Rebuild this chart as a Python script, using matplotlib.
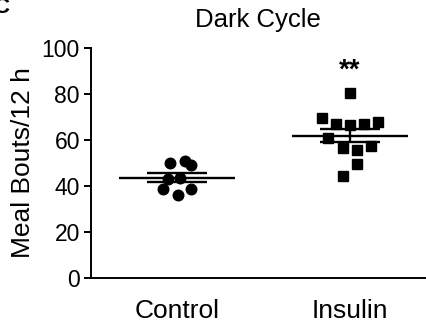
import matplotlib
matplotlib.use("Agg")
import matplotlib.pyplot as plt
import numpy as np

plt.rcParams['font.family'] = ['Liberation Sans', 'DejaVu Sans']

categories = ["Control", "Insulin"]
control = [50, 51, 49, 38.5, 36, 38.5, 43, 43.5]
control_jitter = [-0.04, 0.045, 0.08, -0.08, 0.005, 0.08, -0.05, 0.015]
insulin = [80.6, 69.7, 66.8, 66.5, 66.8, 67.7, 60.7, 56.7, 55.7, 57.4, 49.4, 44.3]
insulin_jitter = [0.0, -0.16, -0.08, 0.0, 0.08, 0.16, -0.127, -0.04, 0.04, 0.12, 0.04, -0.04]
yticks = [0, 20, 40, 60, 80, 100]
title = "Dark Cycle"
ylabel = "Meal Bouts/12 h"
sig = "**"

fig = plt.figure(figsize=(4.26, 3.23), dpi=100)
ax = fig.add_axes([91/426, 45/323, (426-91)/426, 230/323])

groups = [control, insulin]
jit = [control_jitter, insulin_jitter]
markers = ['o', 's']
sizes = [7.6, 7.2]
for i, (vals, j) in enumerate(zip(groups, jit)):
    x = np.array(j) + i
    ax.plot(x, vals, linestyle='none', marker=markers[i], ms=sizes[i],
            color='black', mec='black', zorder=3)
    m = np.mean(vals)
    sem = np.std(vals, ddof=1) / np.sqrt(len(vals))
    ax.hlines(m, i - 0.335, i + 0.335, color='black', lw=1.7, zorder=4)
    ax.hlines([m - sem, m + sem], i - 0.176, i + 0.176, color='black', lw=1.7, zorder=4)
    ax.vlines(i, m - sem, m + sem, color='black', lw=1.7, zorder=4)

ax.text(1, 84.5, sig, ha='center', va='bottom', fontsize=20, fontweight='bold')

ax.set_xlim(-0.497, 1.439)
ax.set_ylim(0, 100)
ax.set_yticks(yticks)
ax.set_xticks([0, 1])
ax.set_xticklabels(categories, fontsize=19)
ax.tick_params(axis='x', length=0, pad=15)
ax.tick_params(axis='y', labelsize=16.5, length=5, width=1.4, pad=3)
ax.spines['top'].set_visible(False)
ax.spines['right'].set_visible(False)
ax.spines['left'].set_linewidth(1.4)
ax.spines['bottom'].set_linewidth(1.4)
ax.set_ylabel(ylabel, fontsize=19, labelpad=5)
fig.text(258/426, 1 - 20/323, title, ha='center', va='center', fontsize=18.5)
fig.text(-7/426, 1 + 3/323, "C", ha='left', va='top', fontsize=16, fontweight='bold')

fig.savefig("out.png", dpi=100)
